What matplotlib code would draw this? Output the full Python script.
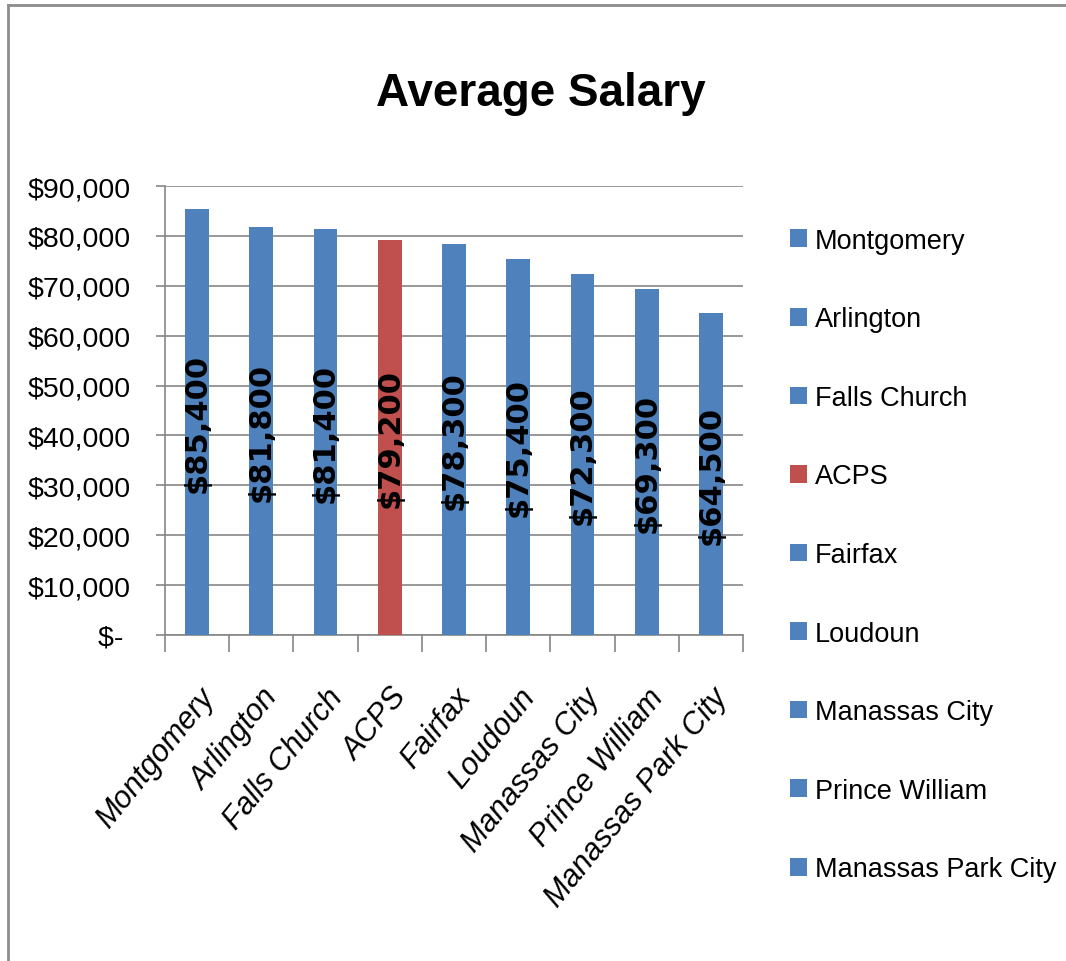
import numpy as np
import matplotlib
matplotlib.use("Agg")
import matplotlib.pyplot as plt
from matplotlib import font_manager
from matplotlib.patches import Patch
from matplotlib.lines import Line2D

districts = ["Montgomery", "Arlington", "Falls Church", "ACPS", "Fairfax",
             "Loudoun", "Manassas City", "Prince William", "Manassas Park City"]
salaries = [85400, 81800, 81400, 79200, 78300, 75400, 72300, 69300, 64500]
highlight = "ACPS"
y_ticks = [0, 10000, 20000, 30000, 40000, 50000, 60000, 70000, 80000, 90000]

BLUE = "#4F81BD"
RED = "#C0504D"
GRID = "#868686"

names = {f.name for f in font_manager.fontManager.ttflist}
FONT = "Liberation Sans Narrow" if "Liberation Sans Narrow" in names else "Liberation Sans"
plt.rcParams["font.family"] = [FONT, "DejaVu Sans"]


def money(v):
    return "$- " if v == 0 else f"${v:,.0f}"


colors = [RED if d == highlight else BLUE for d in districts]

fig = plt.figure(figsize=(10.66, 9.62), dpi=100)
ax = fig.add_axes([0.1548, 0.3389, 0.697 - 0.1548, 0.8056 - 0.3389])

x = np.arange(len(districts))
ax.bar(x, salaries, width=0.37, color=colors, zorder=3)

for xi, v in zip(x, salaries):
    ax.text(xi, v / 2, f"${v:,}", rotation=90, ha="center", va="center",
            fontsize=22, fontweight="bold", family="DejaVu Sans", color="black", zorder=4)

ax.set_xlim(-0.5, len(districts) - 0.5)
ax.set_ylim(0, 90000)
ax.set_yticks(y_ticks)
ax.set_yticklabels([money(v) for v in y_ticks], fontsize=20.5)
ax.yaxis.grid(True, color=GRID, linewidth=1.2, zorder=0)

# category boundaries get the tick marks, centers get the labels
ax.set_xticks(np.arange(-0.5, len(districts), 1.0))
ax.set_xticklabels([])
ax.set_xticks(x, districts, minor=True)
ax.tick_params(axis="x", which="major", length=12, width=1.2, color=GRID)
ax.tick_params(axis="x", which="minor", length=0, pad=34)
ax.tick_params(axis="y", length=6.5, width=1.2, color=GRID, pad=18)
for lab in ax.get_xticklabels(minor=True):
    lab.set_rotation(51)
    lab.set_ha("right")
    lab.set_va("top")
    lab.set_rotation_mode("anchor")
    lab.set_fontstyle("italic")
    lab.set_fontsize(22)

for side in ("top", "right"):
    ax.spines[side].set_visible(False)
for side in ("left", "bottom"):
    ax.spines[side].set_color(GRID)
    ax.spines[side].set_linewidth(1.2)

fig.text(0.507, 0.902, "Average Salary", ha="center", va="center",
         fontsize=33, fontweight="bold")

handles = [Patch(facecolor=c, edgecolor="none") for c in colors]
fig.legend(handles, districts, loc="center left", bbox_to_anchor=(0.741, 0.422),
           frameon=False, fontsize=19.5, handlelength=0.63, handleheight=0.63,
           handletextpad=0.3, labelspacing=1.94, borderpad=0, borderaxespad=0)

# chart frame (only left and top edges visible in the crop)
fig.add_artist(Line2D([0.0075, 0.0075], [0, 0.9935], transform=fig.transFigure,
                      color="#8C8C8C", linewidth=2))
fig.add_artist(Line2D([0.0075, 1.0], [0.9935, 0.9935], transform=fig.transFigure,
                      color="#8C8C8C", linewidth=2))

fig.savefig("out.png", dpi=100)
